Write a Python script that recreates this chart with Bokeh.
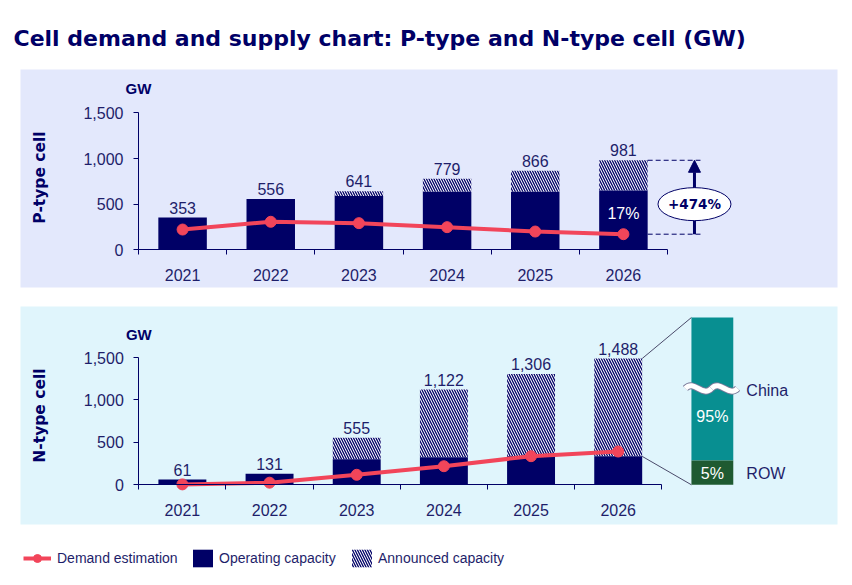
import math
from bokeh.plotting import figure
from bokeh.models import (Range1d, FixedTicker, NumeralTickFormatter, LinearAxis, Arrow,
                          NormalHead, Legend, LegendItem, ColumnDataSource)
from bokeh.core.properties import value
from bokeh.embed import file_html
from bokeh.resources import INLINE

# ---------------- data ----------------
years = [2021, 2022, 2023, 2024, 2025, 2026]
p_operating = [353, 556, 590, 635, 635, 650]
p_total = [353, 556, 641, 779, 866, 981]
p_demand = [222, 307, 292, 248, 200, 171]
n_operating = [61, 131, 300, 325, 335, 335]
n_total = [61, 131, 555, 1122, 1306, 1488]
n_demand = [5, 25, 118, 219, 337, 392]
y_ticks = [0, 500, 1000, 1500]
title_text = "Cell demand and supply chart: P-type and N-type cell (GW)"
p_growth_label = "+474%"
p_share_label = "17%"
china_share_label = "95%"
row_share_label = "5%"
region_names = ["China", "ROW"]
legend_labels = ["Demand estimation", "Operating capacity", "Announced capacity"]

# ---------------- style ----------------
FONT = "Liberation Sans"
BFONT = "DejaVu Sans"
NAVY = "#000066"
TEXT = "#1E1E6A"
RED = "#F2455A"
P_BG = "#E3E8FC"
N_BG = "#E0F5FC"
TEAL = "#088F91"
GREEN = "#1F5A31"
BAR_W = 0.55
HATCH = dict(fill_color="white", line_color=None, hatch_pattern="left_diagonal_line",
             hatch_color=NAVY, hatch_scale=5, hatch_weight=1.3)

W, H = 852, 585
x0 = years[0] - 0.5
# P-type panel scales
PXT, PYT = 529 / 6, 136.9 / 1500
xs_t = x0 - 138 / PXT
ys_t = (249.3 - H) / PYT
# N-type panel scales
PXB, PYB = 523 / 6, 127.3 / 1500
xs_b = x0 - 138.3 / PXB
ys_b = (484.3 - H) / PYB

p = figure(width=W, height=H,
           x_range=Range1d(xs_t, xs_t + W / PXT), y_range=Range1d(ys_t, ys_t + H / PYT),
           x_axis_type=None, y_axis_type=None, output_backend="svg",
           toolbar_location=None, min_border=0, outline_line_color=None,
           background_fill_color="white", border_fill_color="white")
p.extra_x_ranges = {"n": Range1d(xs_b, xs_b + W / PXB), "px": Range1d(0, W)}
p.extra_y_ranges = {"n": Range1d(ys_b, ys_b + H / PYB), "px": Range1d(H, 0)}
PX = dict(x_range_name="px", y_range_name="px")
NR = dict(x_range_name="n", y_range_name="n")
TR = dict(x_range_name="default", y_range_name="default")

# panel backgrounds and title
p.quad(left=[20, 20], right=[837, 837], top=[69, 306], bottom=[287, 524],
       fill_color=[P_BG, N_BG], line_color=None, **PX)
p.text(x=[13], y=[38], text=[title_text], text_baseline="alphabetic",
       text_font=value(BFONT), text_font_style="bold", text_font_size="22px",
       text_color=NAVY, **PX)


def axes(rng, ylabel, ylabel_y, ppx):
    xa = LinearAxis(fixed_location=0, **rng)
    xa.ticker = FixedTicker(ticks=years,
                            minor_ticks=[y - 0.5 for y in years] + [years[-1] + 0.5])
    xa.bounds = (x0, years[-1] + 0.5)
    xa.major_tick_out = 0
    xa.major_tick_in = 0
    xa.minor_tick_out = 5
    xa.minor_tick_in = 0
    xa.minor_tick_line_color = NAVY
    xa.major_label_standoff = 14
    ya = LinearAxis(fixed_location=x0, **rng)
    ya.ticker = FixedTicker(ticks=y_ticks)
    ya.formatter = NumeralTickFormatter(format="0,0")
    ya.bounds = (y_ticks[0], y_ticks[-1])
    ya.major_tick_out = 5
    ya.major_tick_in = 0
    ya.minor_tick_out = 0
    ya.minor_tick_in = 0
    ya.major_label_standoff = 10
    for ax in (xa, ya):
        ax.axis_line_color = NAVY
        ax.major_tick_line_color = NAVY
        ax.major_label_text_font = FONT
        ax.major_label_text_font_size = "16px"
        ax.major_label_text_color = TEXT
    p.add_layout(xa, "below")
    p.add_layout(ya, "left")
    p.text(x=[x0], y=[1767], text=["GW"], text_align="center", text_baseline="middle",
           text_font=value(FONT), text_font_size="15px", text_font_style="bold",
           text_color=NAVY, **rng)
    p.text(x=[x0 - 99 / ppx], y=[ylabel_y], text=[ylabel], angle=math.pi / 2,
           text_align="center", text_baseline="middle", text_font=value(BFONT),
           text_font_size="15.5px", text_font_style="bold", text_color=NAVY, **rng)


def bars(rng, op, total, demand):
    src = ColumnDataSource(dict(year=years, op=op, total=total, demand=demand,
                                label=[f"{v:,}" for v in total]))
    r_an = p.vbar(x="year", width=BAR_W, bottom="op", top="total", source=src,
                  **HATCH, **rng)
    r_op = p.vbar(x="year", width=BAR_W, bottom=0, top="op", fill_color=NAVY,
                  line_color=None, source=src, **rng)
    r_ln = p.line(x="year", y="demand", line_color=RED, line_width=4, source=src, **rng)
    r_dt = p.scatter(x="year", y="demand", size=11, fill_color=RED, line_color=RED,
                     source=src, **rng)
    p.text(x="year", y="total", text="label", text_align="center",
           text_baseline="bottom", y_offset=-4, text_font=value(FONT),
           text_font_size="16px", text_color=TEXT, source=src, **rng)
    return r_ln, r_dt, r_op, r_an


# ---------------- P-type panel ----------------
axes(TR, "P-type cell", 792, PXT)
r_ln, r_dt, r_op, r_an = bars(TR, p_operating, p_total, p_demand)
xl = years[-1]
bar_right = xl + BAR_W / 2
x_arrow = xl + 0.806
p.segment(x0=[bar_right, bar_right], y0=[p_total[-1], p_demand[-1]],
          x1=[xl + 0.874, xl + 0.874], y1=[p_total[-1], p_demand[-1]],
          line_dash="5 3", line_color=NAVY, line_width=1)
p.add_layout(Arrow(end=NormalHead(size=12, fill_color=NAVY, line_color=NAVY),
                   x_start=x_arrow, y_start=p_demand[-1], x_end=x_arrow,
                   y_end=p_total[-1], line_color=NAVY, line_width=3))
p.ellipse(x=[x_arrow], y=[500], width=[73], height=[33], width_units="screen",
          height_units="screen", fill_color="white", line_color=NAVY, line_width=1,
          level="overlay")
p.text(x=[x_arrow], y=[500], text=[p_growth_label], text_align="center",
       text_baseline="middle", text_font=value(BFONT), text_font_style="bold",
       text_font_size="13.5px", text_color=NAVY, level="overlay")
p.text(x=[xl], y=[394], text=[p_share_label], text_align="center",
       text_baseline="middle", text_font=value(FONT), text_font_size="16px",
       text_color="white")

# ---------------- N-type panel ----------------
axes(NR, "N-type cell", 816, PXB)
bars(NR, n_operating, n_total, n_demand)
dec_l, dec_r = xl + 0.84, xl + 1.32
dec_top, row_top = 1971, 286
p.segment(x0=[bar_right, bar_right], y0=[n_total[-1], n_operating[-1]],
          x1=[dec_l, dec_l], y1=[dec_top, 0], line_color="#4A4A6A", line_width=1, **NR)
p.quad(left=[dec_l], right=[dec_r], bottom=[row_top], top=[dec_top],
       fill_color=TEAL, line_color=None, **NR)
p.quad(left=[dec_l], right=[dec_r], bottom=[0], top=[row_top],
       fill_color=GREEN, line_color=None, **NR)
wy = 1135
wave = dict(x0=[xl + 0.77, xl + 1.07], y0=[wy, wy], x1=[xl + 1.07, xl + 1.37],
            y1=[wy, wy], cx0=[xl + 0.87, xl + 1.17], cy0=[wy + 110, wy + 110],
            cx1=[xl + 0.97, xl + 1.27], cy1=[wy - 110, wy - 110])
p.bezier(line_color="#7A7A9A", line_width=7, **wave, **NR)
p.bezier(line_color="white", line_width=5, **wave, **NR)
p.text(x=[xl + 1.47, xl + 1.47], y=[1110, 133], text=region_names,
       text_baseline="middle", text_font=value(FONT), text_font_size="16px",
       text_color=TEXT, **NR)
p.text(x=[xl + 1.08, xl + 1.08], y=[805, 138], text=[china_share_label, row_share_label],
       text_align="center", text_baseline="middle", text_font=value(FONT),
       text_font_size="16px", text_color="white", **NR)

# ---------------- legend ----------------
common = dict(orientation="horizontal", padding=0, margin=0, spacing=0,
              border_line_color=None, background_fill_alpha=0,
              label_text_font=FONT, label_text_font_size="14px",
              label_text_color=TEXT)
p.add_layout(Legend(items=[LegendItem(label=legend_labels[0], renderers=[r_ln, r_dt])],
                    location=(23, 17), glyph_width=28, glyph_height=20,
                    label_standoff=6, **common))
p.add_layout(Legend(items=[LegendItem(label=legend_labels[1], renderers=[r_op])],
                    location=(190, 16), glyph_width=25, glyph_height=22,
                    label_standoff=4, **common))
p.add_layout(Legend(items=[LegendItem(label=legend_labels[2], renderers=[r_an])],
                    location=(349, 16), glyph_width=25, glyph_height=22,
                    label_standoff=4, **common))

open("out.html", "w").write(file_html(p, INLINE))
